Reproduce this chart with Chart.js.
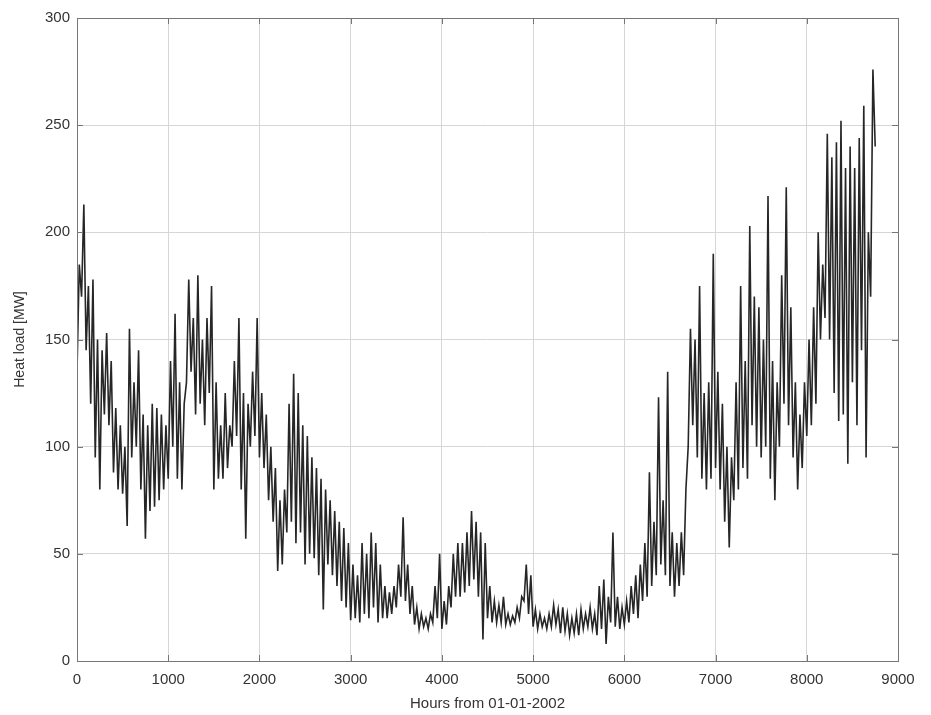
<!DOCTYPE html>
<html>
<head>
<meta charset="utf-8">
<script src="https://cdn.jsdelivr.net/npm/chart.js@4/dist/chart.umd.min.js"></script>
<style>
  html, body { margin: 0; padding: 0; background: #fff; }
  #wrap { width: 931px; height: 715px; }
</style>
</head>
<body>
<div id="wrap"><canvas id="c" width="931" height="715"></canvas></div>
<script>
const STEP_HOURS = 25;
const heatLoad = [
  // 0 - 475
  135,185,170,213,145,175,120,178,95,150,80,145,115,153,110,140,88,118,80,110,
  // 500 - 975
  78,100,63,155,95,130,100,145,80,115,57,110,70,120,72,118,75,115,80,110,
  // 1000 - 1475
  85,140,100,162,85,130,80,120,130,178,135,160,115,180,120,150,110,160,125,175,
  // 1500 - 1975
  80,130,85,110,85,125,90,110,100,140,105,160,80,125,57,120,100,135,105,160,
  // 2000 - 2475
  95,125,90,115,75,100,65,90,42,75,45,80,60,120,65,134,55,125,60,110,
  // 2500 - 2975
  45,105,50,95,48,90,40,85,24,80,45,75,40,70,35,65,28,62,25,55,
  // 3000 - 3475
  19,45,20,40,18,55,22,50,20,60,25,55,18,45,20,35,20,32,22,35,
  // 3500 - 3975
  25,45,30,67,28,45,22,35,17,25,15,22,16,20,15,22,18,35,20,50,
  // 4000 - 4475
  15,28,17,35,25,50,30,55,30,55,32,60,35,70,38,65,30,60,10,55,
  // 4500 - 4975
  20,35,18,28,18,26,18,30,17,22,17,21,18,25,20,30,28,45,22,40,
  // 5000 - 5475
  16,24,15,22,16,20,15,22,16,26,17,24,13,25,14,22,12,20,13,22,
  // 5500 - 5975
  12,24,15,22,16,25,15,22,12,35,15,38,8,30,18,60,16,30,15,25,
  // 6000 - 6475
  17,28,18,35,22,40,20,45,28,55,30,88,35,65,40,123,45,75,40,135,
  // 6500 - 6975
  35,60,30,55,35,60,40,80,100,155,110,150,95,175,85,125,80,130,85,190,
  // 7000 - 7475
  90,135,80,120,65,100,53,95,75,130,80,175,90,140,85,203,110,170,100,165,
  // 7500 - 7975
  95,150,100,217,85,140,75,130,100,180,120,221,110,165,95,130,80,115,90,130,
  // 8000 - 8475
  105,150,110,165,120,200,150,185,160,246,150,235,125,242,112,252,115,230,92,240,
  // 8500 - 8750
  130,230,110,244,145,259,95,200,170,276,240
];

const xTicks = [0,1000,2000,3000,4000,5000,6000,7000,8000,9000];
const yTicks = [0,50,100,150,200,250,300];

const points = heatLoad.map((v, i) => ({ x: i * STEP_HOURS, y: v }));

// MATLAB style box round the plot with short inward ticks
const boxPlugin = {
  id: 'box',
  afterDraw(chart) {
    const ctx = chart.ctx, a = chart.chartArea;
    const xs = chart.scales.x, ys = chart.scales.y;
    ctx.save();
    ctx.strokeStyle = '#777';
    ctx.lineWidth = 1;
    ctx.strokeRect(a.left + 0.5, a.top + 0.5, a.right - a.left, a.bottom - a.top);
    ctx.beginPath();
    xTicks.forEach(t => {
      let px = Math.round(xs.getPixelForValue(t)) + 0.5;
      ctx.moveTo(px, a.bottom); ctx.lineTo(px, a.bottom - 6);
      ctx.moveTo(px, a.top); ctx.lineTo(px, a.top + 6);
    });
    yTicks.forEach(t => {
      let py = Math.round(ys.getPixelForValue(t)) + 0.5;
      ctx.moveTo(a.left, py); ctx.lineTo(a.left + 6, py);
      ctx.moveTo(a.right, py); ctx.lineTo(a.right - 6, py);
    });
    ctx.stroke();
    ctx.restore();
  }
};

new Chart(document.getElementById('c'), {
  type: 'line',
  data: {
    datasets: [{
      data: points,
      borderColor: '#262626',
      borderWidth: 1.6,
      pointRadius: 0,
      tension: 0,
      fill: false
    }]
  },
  options: {
    responsive: false,
    animation: false,
    layout: { padding: { top: 18, right: 33, left: 0, bottom: 0 } },
    plugins: { legend: { display: false }, tooltip: { enabled: false } },
    scales: {
      x: {
        type: 'linear',
        min: 0, max: 9000,
        afterBuildTicks: s => { s.ticks = xTicks.map(v => ({ value: v })); },
        afterFit: s => { s.height = 54; },
        grid: { color: '#d6d6d6', drawTicks: false },
        border: { display: false },
        ticks: { padding: 10, maxRotation: 0, color: '#333', callback: v => String(v), font: { family: 'Liberation Sans', size: 15 } },
        title: { display: true, text: 'Hours from 01-01-2002', color: '#333', padding: { top: 0, bottom: 2 }, font: { family: 'Liberation Sans', size: 15 } }
      },
      y: {
        min: 0, max: 300,
        afterBuildTicks: s => { s.ticks = yTicks.map(v => ({ value: v })); },
        afterFit: s => { s.width = 77; },
        grid: { color: '#d6d6d6', drawTicks: false },
        border: { display: false },
        ticks: { padding: 7, color: '#333', callback: v => String(v), font: { family: 'Liberation Sans', size: 15 } },
        title: { display: true, text: 'Heat load [MW]', color: '#333', padding: { top: 12, bottom: 0 }, font: { family: 'Liberation Sans', size: 14 } }
      }
    }
  },
  plugins: [boxPlugin]
});
</script>
</body>
</html>
